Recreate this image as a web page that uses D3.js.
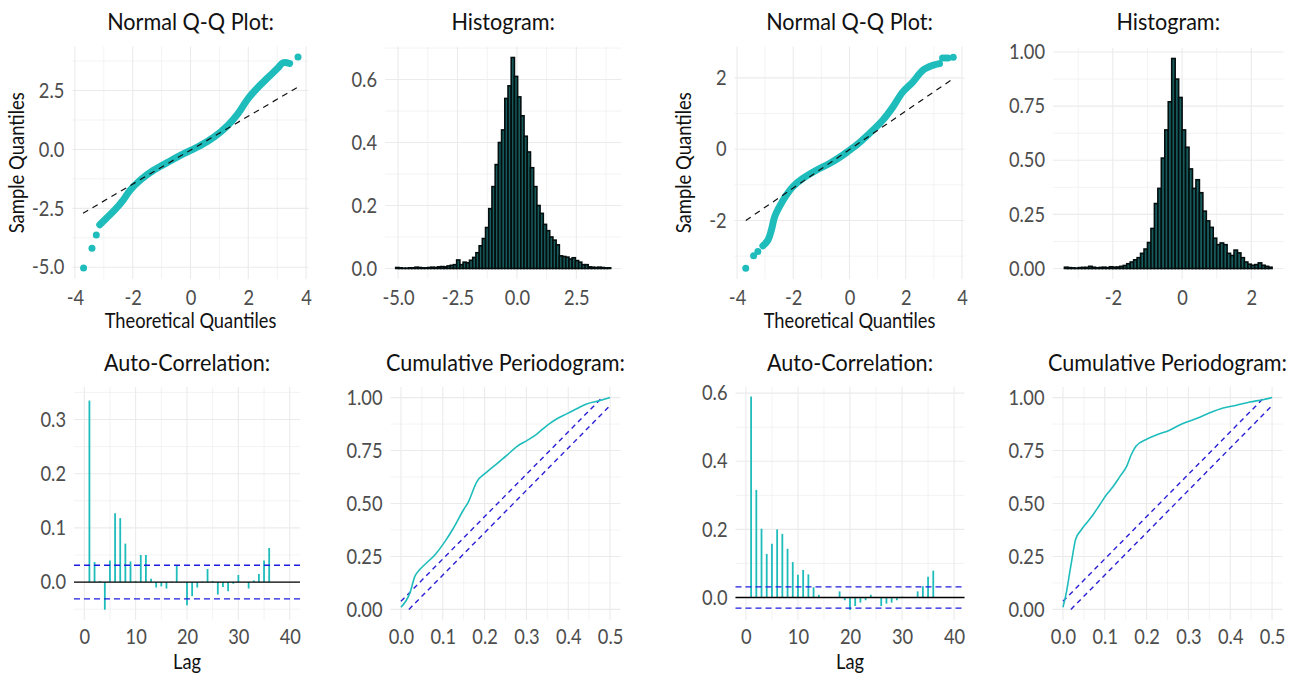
<!DOCTYPE html>
<html><head><meta charset="utf-8">
<script src="https://cdn.jsdelivr.net/npm/d3@7"></script>
<style>
body{margin:0;background:#fff;}
</style></head><body>
<script>
// ---------------- DATA ----------------
// Q-Q plot 1 (dense band + isolated tail points), theoretical vs sample quantiles
const qq1T = [-3.14,-2.91,-2.62,-2.33,-2.09,-1.75,-1.28,-0.81,-0.35,0,0.35,0.81,1.28,1.63,1.98,2.33,2.68,3.03,3.20,3.43];
const qq1S = [-3.20,-2.92,-2.57,-2.15,-1.73,-1.31,-0.885,-0.56,-0.25,-0.04,0.17,0.52,1.01,1.50,2.14,2.63,3.05,3.47,3.68,3.65];
const qq1TailT = [-3.70,-3.41,-3.26,3.72];
const qq1TailS = [-5.03,-4.19,-3.63,3.92];
const qq1LineT = [-3.72,3.72];
const qq1LineS = [-2.71,2.65];

// Q-Q plot 2
const qq2T = [-3.08,-2.90,-2.78,-2.66,-2.49,-2.25,-2.01,-1.66,-1.18,-0.71,-0.24,0,0.24,0.71,1.18,1.54,1.89,2.25,2.60,2.96,3.20];
const qq2S = [-2.71,-2.55,-2.27,-1.89,-1.61,-1.29,-1.05,-0.82,-0.59,-0.40,-0.17,-0.03,0.11,0.44,0.81,1.18,1.60,1.88,2.21,2.35,2.40];
const qq2TailT = [-3.69,-3.41,-3.26,3.31,3.41,3.50,3.69];
const qq2TailS = [-3.34,-2.99,-2.87,2.56,2.56,2.56,2.58];
const qq2LineT = [-3.69,3.69];
const qq2LineS = [-2.00,1.98];

// Histogram 1 (density), bins of equal width
const hist1Start = -5.1, hist1Width = 0.135;
const hist1Density = [0.003,0.002,0.001,0.001,0.002,0.002,0.004,0.003,0.002,0.002,0.003,0.004,0.003,0.005,0.006,0.005,0.008,0.010,0.012,
  0.027,0.012,0.020,0.018,0.026,0.035,0.050,0.072,0.095,0.130,0.190,0.260,0.330,0.400,0.440,0.540,0.580,0.670,
  0.610,0.545,0.485,0.420,0.370,0.320,0.260,0.200,0.175,0.140,0.120,0.100,0.090,0.075,0.040,0.038,0.036,0.030,0.034,
  0.025,0.020,0.012,0.012,0.005,0.004,0.003,0.004,0.003,0.002,0.002];

// Histogram 2
const hist2Start = -3.4, hist2Width = 0.1;
const hist2Density = [0.006,0.004,0.003,0.002,0.004,0.005,0.005,0.010,0.006,0.003,0.005,0.006,0.004,0.008,0.006,0.007,0.010,0.014,
  0.022,0.030,0.040,0.050,0.070,0.090,0.120,0.185,0.300,0.370,0.510,0.640,0.770,0.970,0.875,0.790,0.640,0.560,0.460,0.370,
  0.410,0.350,0.265,0.220,0.190,0.140,0.110,0.118,0.110,0.070,0.060,0.085,0.072,0.050,0.030,0.020,0.015,0.018,0.026,0.015,0.010,0.006];

// Auto-correlation, lags 1..36
const acf1 = [0.335,0.037,0.002,-0.051,0.040,0.127,0.118,0.071,0.038,0.002,0.050,0.050,0.006,-0.010,-0.008,-0.012,0.001,0.031,0.000,
  -0.043,-0.026,-0.010,0.001,0.024,0.002,-0.023,-0.009,-0.017,-0.003,0.013,0.000,-0.012,0.003,0.015,0.040,0.063];
const acf2 = [0.590,0.316,0.202,0.128,0.158,0.200,0.187,0.143,0.104,0.067,0.081,0.068,0.030,0.008,0.001,0.000,0.001,0.018,-0.008,
  -0.037,-0.025,-0.015,-0.008,0.008,0.001,-0.025,-0.018,-0.015,-0.008,0.002,0.000,0.000,0.018,0.033,0.061,0.079];
const acfCI = 0.031;

// Cumulative periodogram
const cpg1X = [0,0.0215,0.0335,0.045,0.061,0.081,0.105,0.125,0.149,0.161,0.181,0.205,0.229,0.253,0.277,0.301,0.325,0.349,0.372,0.396,0.42,0.444,0.476,0.5];
const cpg1Y = [0.01,0.078,0.157,0.188,0.219,0.257,0.32,0.382,0.468,0.507,0.601,0.648,0.687,0.727,0.769,0.797,0.828,0.868,0.899,0.923,0.947,0.97,0.986,1.0];
const cpg2X = [0,0.008,0.016,0.024,0.030,0.044,0.056,0.072,0.088,0.104,0.120,0.136,0.152,0.163,0.175,0.199,0.223,0.255,0.287,0.319,0.351,0.383,0.415,0.447,0.478,0.5];
const cpg2Y = [0.01,0.078,0.172,0.266,0.329,0.376,0.407,0.447,0.494,0.541,0.58,0.627,0.674,0.729,0.771,0.802,0.823,0.846,0.878,0.901,0.928,0.951,0.964,0.979,0.99,1.0];
const cpgUpperX = [0,0.481], cpgUpperY = [0.038,1];
const cpgLowerX = [0.019,0.5], cpgLowerY = [0,0.962];

// Tick labels
const qqXTicks = [-4,-2,0,2,4];
const qq1YTicks = [-5,-2.5,0,2.5];
const qq2YTicks = [-2,0,2];
const hist1XTicks = [-5,-2.5,0,2.5];
const hist1YTicks = [0,0.2,0.4,0.6];
const hist2XTicks = [-2,0,2];
const hist2YTicks = [0,0.25,0.5,0.75,1];
const acfXTicks = [0,10,20,30,40];
const acf1YTicks = [0,0.1,0.2,0.3];
const acf2YTicks = [0,0.2,0.4,0.6];
const cpgXTicks = [0,0.1,0.2,0.3,0.4,0.5];
const cpgYTicks = [0,0.25,0.5,0.75,1];

// ---------------- DRAW ----------------
const W = 1297, H = 677;
const TEAL = "#1fbcbc";
const FONT = 'Lato, "Open Sans", sans-serif';
const svg = d3.select("body").append("svg").attr("width", W).attr("height", H);
svg.append("rect").attr("width", W).attr("height", H).attr("fill", "#fff");

function condense(sx) {
  return sel => sel.each(function () {
    const t = d3.select(this);
    const x = +t.attr("x") || 0;
    const prev = t.attr("transform") || "";
    t.attr("x", x / sx).attr("transform", prev + ` scale(${sx},1)`);
  });
}

function minorBreaks(t, dom) {
  const out = [];
  for (let i = -1; i < t.length; i++) {
    const a = i < 0 ? t[0] - (t[1]-t[0]) : t[i];
    const b = i < 0 ? t[0] : (i+1 < t.length ? t[i+1] : t[i] + (t[i]-t[i-1]));
    const m = (a + b) / 2;
    if (m >= dom[0] && m <= dom[1]) out.push(m);
  }
  return out;
}

function panel(p) {
  const g = svg.append("g");
  const x = d3.scaleLinear().domain(p.xdom).range([p.x0, p.x1]);
  const y = d3.scaleLinear().domain(p.ydom).range([p.y1, p.y0]);
  const gx = (vals, w) => g.append("g").selectAll("line").data(vals).join("line")
    .attr("x1", d => x(d)).attr("x2", d => x(d)).attr("y1", p.y0).attr("y2", p.y1)
    .attr("stroke", "#ebebeb").attr("stroke-width", w);
  const gy = (vals, w) => g.append("g").selectAll("line").data(vals).join("line")
    .attr("y1", d => y(d)).attr("y2", d => y(d)).attr("x1", p.x0).attr("x2", p.x1)
    .attr("stroke", "#ebebeb").attr("stroke-width", w);
  gx(minorBreaks(p.xTicks, p.xdom), 0.6);
  gy(minorBreaks(p.yTicks, p.ydom), 0.6);
  gx(p.xTicks.filter(d => d >= p.xdom[0] && d <= p.xdom[1]), 1.1);
  gy(p.yTicks.filter(d => d >= p.ydom[0] && d <= p.ydom[1]), 1.1);

  const ax = g.append("g").attr("transform", `translate(0,${p.y1})`)
    .call(d3.axisBottom(x).tickValues(p.xTicks).tickSize(0).tickPadding(p.xPad).tickFormat(d => d.toFixed(p.xDec)));
  ax.select(".domain").remove();
  ax.selectAll("text").style("font-family", FONT).style("font-size", "21px").attr("fill", "#4d4d4d").call(condense(0.87));
  const ay = g.append("g").attr("transform", `translate(${p.x0},0)`)
    .call(d3.axisLeft(y).tickValues(p.yTicks).tickSize(0).tickPadding(8).tickFormat(d => d.toFixed(p.yDec)));
  ay.select(".domain").remove();
  ay.selectAll("text").style("font-family", FONT).style("font-size", "21px").attr("fill", "#4d4d4d").call(condense(0.87));

  g.append("text").attr("x", (p.x0 + p.x1) / 2).attr("y", p.titleY).attr("text-anchor", "middle")
    .style("font-family", FONT).style("font-size", "24px").attr("fill", "#111").text(p.title).call(condense(0.9));
  if (p.xlab) g.append("text").attr("x", (p.x0 + p.x1) / 2).attr("y", p.xlabY).attr("text-anchor", "middle")
    .style("font-family", FONT).style("font-size", "21px").attr("fill", "#111").text(p.xlab).call(condense(0.87));
  if (p.ylab) g.append("text").attr("transform", `translate(${p.ylabX},${(p.y0 + p.y1) / 2}) rotate(-90)`)
    .attr("text-anchor", "middle").attr("dy", "0.35em")
    .style("font-family", FONT).style("font-size", "21px").attr("fill", "#111").text(p.ylab).call(condense(0.88));
  return { g, x, y };
}

function drawQQ(p, T, S, tT, tS, lT, lS) {
  const { g, x, y } = panel(p);
  const pts = T.map((t, i) => [t, S[i]]);
  g.append("path").datum(pts)
    .attr("d", d3.line().x(d => x(d[0])).y(d => y(d[1])).curve(d3.curveCatmullRom))
    .attr("fill", "none").attr("stroke", TEAL).attr("stroke-width", 7).attr("stroke-linecap", "round").attr("stroke-linejoin", "round");
  g.append("g").selectAll("circle").data(tT.map((t, i) => [t, tS[i]])).join("circle")
    .attr("cx", d => x(d[0])).attr("cy", d => y(d[1])).attr("r", 3.5).attr("fill", TEAL);
  g.append("line").attr("x1", x(lT[0])).attr("x2", x(lT[1])).attr("y1", y(lS[0])).attr("y2", y(lS[1]))
    .attr("stroke", "#111").attr("stroke-width", 1.2).attr("stroke-dasharray", "6,5");
}

function drawHist(p, start, width, dens) {
  const { g, x, y } = panel(p);
  g.append("g").selectAll("rect").data(dens).join("rect")
    .attr("x", (d, i) => x(start + i * width)).attr("width", (d, i) => x(start + (i + 1) * width) - x(start + i * width))
    .attr("y", d => y(d)).attr("height", d => y(0) - y(d))
    .attr("fill", "#175a5b").attr("stroke", "#050e0e").attr("stroke-width", 1.6);
}

function drawACF(p, vals) {
  const { g, x, y } = panel(p);
  g.append("g").selectAll("line").data(vals).join("line")
    .attr("x1", (d, i) => x(i + 1)).attr("x2", (d, i) => x(i + 1)).attr("y1", y(0)).attr("y2", d => y(d))
    .attr("stroke", TEAL).attr("stroke-width", 1.8);
  g.append("line").attr("x1", p.x0).attr("x2", p.x1).attr("y1", y(0)).attr("y2", y(0)).attr("stroke", "#000").attr("stroke-width", 1.3);
  [acfCI, -acfCI].forEach(c => g.append("line").attr("x1", p.x0).attr("x2", p.x1).attr("y1", y(c)).attr("y2", y(c))
    .attr("stroke", "#1d1de0").attr("stroke-width", 1.3).attr("stroke-dasharray", "6,4"));
}

function drawCPG(p, X, Y) {
  const { g, x, y } = panel(p);
  [[cpgUpperX, cpgUpperY], [cpgLowerX, cpgLowerY]].forEach(([lx, ly]) =>
    g.append("line").attr("x1", x(lx[0])).attr("x2", x(lx[1])).attr("y1", y(ly[0])).attr("y2", y(ly[1]))
      .attr("stroke", "#2a1fd6").attr("stroke-width", 1.4).attr("stroke-dasharray", "5,4"));
  g.append("path").datum(X.map((v, i) => [v, Y[i]]))
    .attr("d", d3.line().x(d => x(d[0])).y(d => y(d[1])).curve(d3.curveMonotoneX))
    .attr("fill", "none").attr("stroke", TEAL).attr("stroke-width", 1.6);
}

const R1 = { y0: 46.5, y1: 279, titleY: 30, xPad: 11 };
const R2 = { y0: 387, y1: 620, titleY: 371, xPad: 9.5 };

drawQQ(Object.assign({}, R1, { x0: 72.3, x1: 308.7, xdom: [-4.09, 4.09], ydom: [-5.5, 4.37], xTicks: qqXTicks, yTicks: qq1YTicks,
  xDec: 0, yDec: 1, title: "Normal Q-Q Plot:", xlab: "Theoretical Quantiles", xlabY: 328, ylab: "Sample Quantiles", ylabX: 17 }),
  qq1T, qq1S, qq1TailT, qq1TailS, qq1LineT, qq1LineS);

drawHist(Object.assign({}, R1, { x0: 385, x1: 621.5, xdom: [-5.55, 4.4], ydom: [-0.0335, 0.705], xTicks: hist1XTicks, yTicks: hist1YTicks,
  xDec: 1, yDec: 1, title: "Histogram:" }), hist1Start, hist1Width, hist1Density);

drawQQ(Object.assign({}, R1, { x0: 734.5, x1: 964.5, xdom: [-4.09, 4.09], ydom: [-3.64, 2.88], xTicks: qqXTicks, yTicks: qq2YTicks,
  xDec: 0, yDec: 0, title: "Normal Q-Q Plot:", xlab: "Theoretical Quantiles", xlabY: 328, ylab: "Sample Quantiles", ylabX: 684 }),
  qq2T, qq2S, qq2TailT, qq2TailS, qq2LineT, qq2LineS);

drawHist(Object.assign({}, R1, { y0: 48, x0: 1053, x1: 1283.5, xdom: [-3.73, 2.93], ydom: [-0.0485, 1.0185], xTicks: hist2XTicks, yTicks: hist2YTicks,
  xDec: 0, yDec: 2, title: "Histogram:" }), hist2Start, hist2Width, hist2Density);

drawACF(Object.assign({}, R2, { x0: 74, x1: 300, xdom: [-2, 42], ydom: [-0.07, 0.36], xTicks: acfXTicks, yTicks: acf1YTicks,
  xDec: 0, yDec: 1, title: "Auto-Correlation:", xlab: "Lag", xlabY: 669 }), acf1);

drawCPG(Object.assign({}, R2, { x0: 390.5, x1: 620.5, xdom: [-0.025, 0.525], ydom: [-0.05, 1.05], xTicks: cpgXTicks, yTicks: cpgYTicks,
  xDec: 1, yDec: 2, title: "Cumulative Periodogram:" }), cpg1X, cpg1Y);

drawACF(Object.assign({}, R2, { x0: 735.5, x1: 964.5, xdom: [-2, 42], ydom: [-0.066, 0.618], xTicks: acfXTicks, yTicks: acf2YTicks,
  xDec: 0, yDec: 1, title: "Auto-Correlation:", xlab: "Lag", xlabY: 669 }), acf2);

drawCPG(Object.assign({}, R2, { x0: 1052.5, x1: 1282.5, xdom: [-0.025, 0.525], ydom: [-0.05, 1.05], xTicks: cpgXTicks, yTicks: cpgYTicks,
  xDec: 1, yDec: 2, title: "Cumulative Periodogram:" }), cpg2X, cpg2Y);
</script></body></html>
